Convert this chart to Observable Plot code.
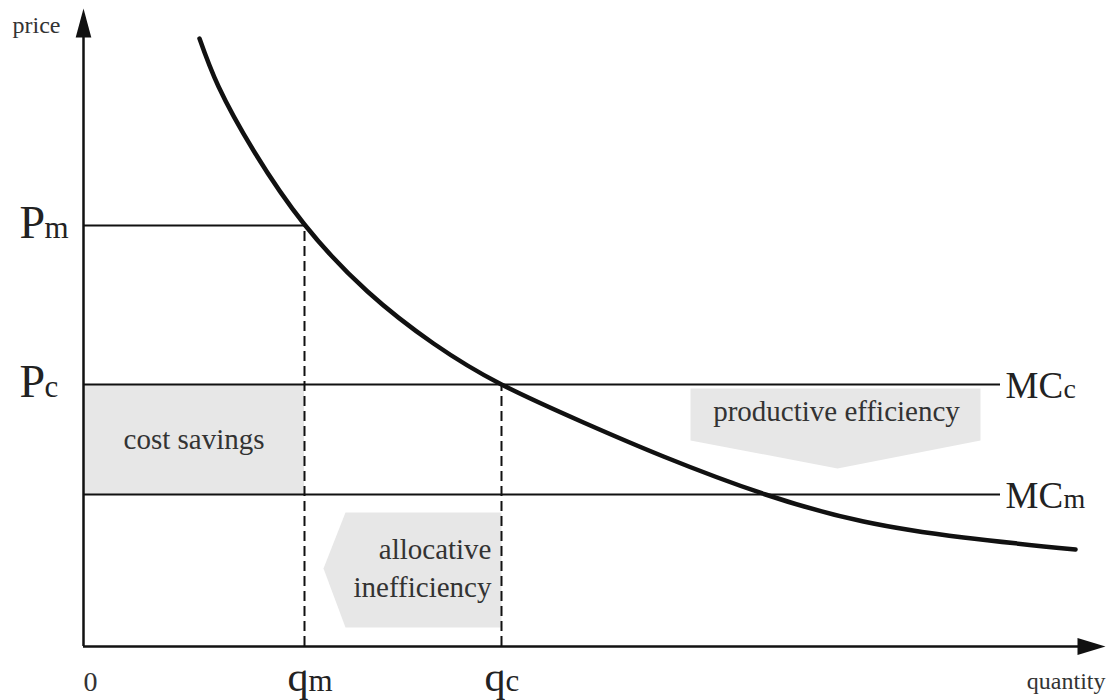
<!DOCTYPE html>
<html>
<head>
<meta charset="utf-8">
<script src="https://cdn.jsdelivr.net/npm/d3@7"></script>
<script src="https://cdn.jsdelivr.net/npm/@observablehq/plot@0.6"></script>
<style>
  html, body { margin: 0; padding: 0; background: #fff; }
  #chart svg { display: block; }
  #chart svg text { font-family: "Liberation Serif", "DejaVu Serif", serif; }
</style>
</head>
<body>
<div id="chart"></div>
<script>
// ---- Data ----
const qMax = 102.2;          // end of quantity axis
const pMax = 63.8;           // end of price axis
const qNames = ["qm", "qc"];
const qValues = [22.1, 41.8];          // monopoly / competitive quantity
const pNames = ["Pm", "Pc"];
const pValues = [42.1, 26.2];          // monopoly / competitive price
const mcNames = ["MCc", "MCm"];
const mcValues = [26.2, 15.2];         // marginal cost levels
const mcEnd = 91.7;                    // where the MC lines stop

// demand curve samples
const demandQ = [11.6, 13.5, 17.0, 22.1, 28.4, 35.0, 41.8, 50.0, 58.0, 68.2, 78.0, 88.0, 99.2];
const demandP = [60.8, 56.0, 49.6, 42.2, 35.5, 30.3, 26.2, 22.4, 19.0, 15.2, 12.5, 10.9, 9.7];

// callout shapes (data units)
const prodQ = [60.7, 89.7, 89.7, 75.4, 60.7];
const prodP = [25.8, 25.8, 20.6, 17.8, 20.6];
const allocQ = [41.8, 26.2, 24.0, 26.2, 41.8];
const allocP = [13.4, 13.4, 7.8, 1.9, 1.9];

// ---- Tables built from the arrays ----
const demand = demandQ.map((q, i) => ({q, p: demandP[i]}));
const prodShape = prodQ.map((q, i) => ({q, p: prodP[i]}));
const allocShape = allocQ.map((q, i) => ({q, p: allocP[i]}));
const qRows = qNames.map((n, i) => ({main: n[0], sub: n.slice(1), q: qValues[i], p: pValues[i]}));
const pRows = pNames.map((n, i) => ({main: n[0], sub: n.slice(1), p: pValues[i]}));
const mcRows = mcNames.map((n, i) => ({main: n.slice(0, 2), sub: n.slice(2), p: mcValues[i]}));

const ink = "#111";
const textInk = "#333";
const shade = "#e7e7e7";
const serif = "'Liberation Serif', 'DejaVu Serif', serif";

const arrowUp = { draw(ctx, size) { const s = Math.sqrt(size / Math.PI); ctx.moveTo(0, 0); ctx.lineTo(0.78 * s, 2.9 * s); ctx.lineTo(-0.78 * s, 2.9 * s); ctx.closePath(); } };
const arrowRight = { draw(ctx, size) { const s = Math.sqrt(size / Math.PI); ctx.moveTo(0, 0); ctx.lineTo(-2.8 * s, 0.85 * s); ctx.lineTo(-2.8 * s, -0.85 * s); ctx.closePath(); } };

const T = (o) => ({fontFamily: serif, lineAnchor: "bottom", ...o});

const chart = Plot.plot({
  width: 1111,
  height: 700,
  marginLeft: 83,
  marginRight: 6,
  marginTop: 8,
  marginBottom: 54,
  x: {domain: [0, qMax], axis: null},
  y: {domain: [0, pMax], axis: null},
  style: {fontFamily: serif, background: "#fff", overflow: "visible"},
  marks: [
    // shaded regions
    Plot.rect([{x1: 0, x2: qValues[0], y1: mcValues[1], y2: mcValues[0]}], {x1: "x1", x2: "x2", y1: "y1", y2: "y2", fill: shade}),
    Plot.line(prodShape, {x: "q", y: "p", fill: shade, stroke: "none"}),
    Plot.line(allocShape, {x: "q", y: "p", fill: shade, stroke: "none"}),

    // horizontal price / cost lines
    Plot.ruleY([{p: pValues[0], x1: 0, x2: qValues[0]}], {y: "p", x1: "x1", x2: "x2", stroke: ink, strokeWidth: 2}),
    Plot.ruleY(mcValues.map(p => ({p, x1: 0, x2: mcEnd})), {y: "p", x1: "x1", x2: "x2", stroke: ink, strokeWidth: 2}),

    // dashed quantity drops
    Plot.ruleX(qRows, {x: "q", y1: 0, y2: "p", stroke: ink, strokeWidth: 2, strokeDasharray: "10,5"}),

    // demand curve
    Plot.line(demand, {x: "q", y: "p", curve: "natural", stroke: ink, strokeWidth: 4.5}),

    // axes with arrowheads
    Plot.ruleX([0], {y1: 0, y2: pMax - 2.9, stroke: ink, strokeWidth: 2.5}),
    Plot.ruleY([0], {x1: 0, x2: qMax - 2.7, stroke: ink, strokeWidth: 2.5}),
    Plot.dot([{q: 0, p: pMax}], {x: "q", y: "p", r: 10, symbol: arrowUp, fill: ink, stroke: "none"}),
    Plot.dot([{q: qMax, p: 0}], {x: "q", y: "p", r: 10, symbol: arrowRight, fill: ink, stroke: "none"}),

    // axis titles and origin
    Plot.text(["price"], T({x: 0, y: pMax, text: d => d, textAnchor: "start", dx: -71, dy: 24, fontSize: 24, fill: textInk})),
    Plot.text(["quantity"], T({x: qMax, y: 0, text: d => d, textAnchor: "end", dy: 42, fontSize: 24, fill: textInk})),
    Plot.text(["0"], T({x: 0, y: 0, text: d => d, textAnchor: "start", dx: 0, dy: 44, fontSize: 28, fill: textInk})),

    // price labels
    Plot.text(pRows, T({x: 0, y: "p", text: "main", textAnchor: "start", dx: -64, dy: 12, fontSize: 46, fill: "#222"})),
    Plot.text(pRows, T({x: 0, y: "p", text: "sub", textAnchor: "start", dx: -39, dy: 12, fontSize: 31, fill: "#222"})),

    // quantity labels
    Plot.text(qRows, T({x: "q", y: 0, text: "main", textAnchor: "start", dx: -17, dy: 44, fontSize: 42, fill: "#222"})),
    Plot.text(qRows, T({x: "q", y: 0, text: "sub", textAnchor: "start", dx: 4, dy: 44, fontSize: 31, fill: "#222"})),

    // MC labels
    Plot.text(mcRows, T({x: mcEnd, y: "p", text: "main", textAnchor: "start", dx: 5, dy: 13, fontSize: 37, fill: "#222"})),
    Plot.text(mcRows, T({x: mcEnd, y: "p", text: "sub", textAnchor: "start", dx: 63, dy: 13, fontSize: 28, fill: "#222"})),

    // region annotations
    Plot.text(["cost savings"], T({x: qValues[0] / 2, y: (mcValues[0] + mcValues[1]) / 2, text: d => d, textAnchor: "middle", dy: 9, fontSize: 29, fill: textInk})),
    Plot.text(["productive efficiency"], T({x: 75.3, y: 22.6, text: d => d, textAnchor: "middle", fontSize: 29, fill: textInk})),
    Plot.text(["allocative", "inefficiency"], T({x: qValues[1], y: (d, i) => [8.8, 5.0][i], text: d => d, textAnchor: "end", dx: -10, fontSize: 29, fill: textInk}))
  ]
});
document.getElementById("chart").appendChild(chart);
</script>
</body>
</html>
